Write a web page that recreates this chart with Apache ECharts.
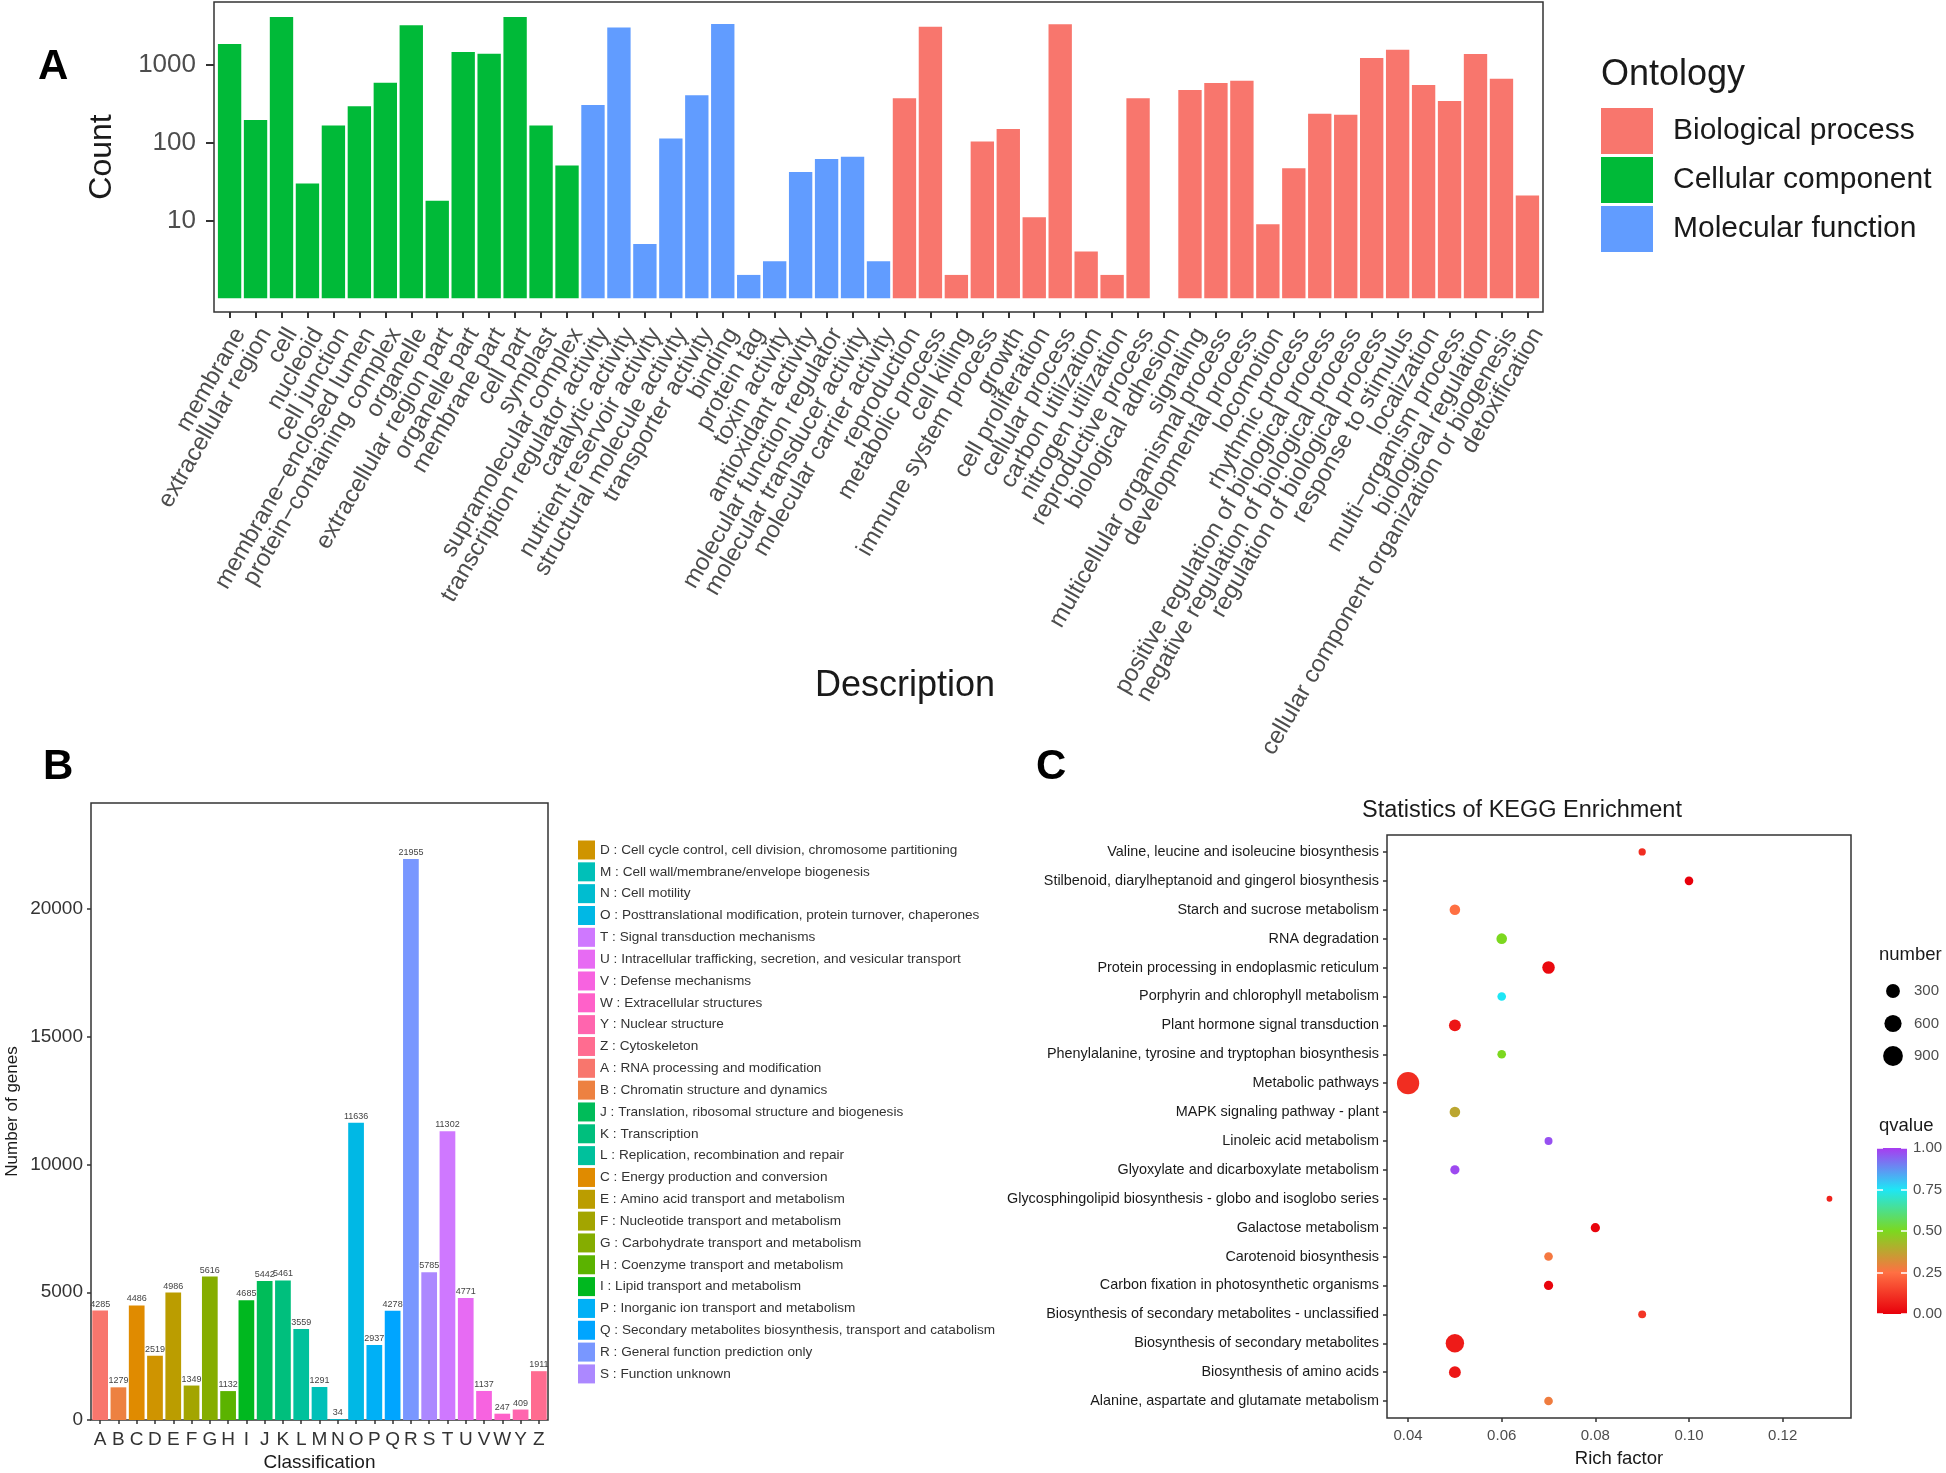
<!DOCTYPE html>
<html><head><meta charset="utf-8">
<script src="https://cdn.jsdelivr.net/npm/echarts@6/dist/echarts.min.js"></script>
<style>html,body{margin:0;padding:0;background:#fff}#c{width:1946px;height:1473px}</style>
</head><body><div id="c"></div>
<script>
// ---------------- Panel A : GO annotation ----------------
const goTerms = ['membrane','extracellular region','cell','nucleoid','cell junction','membrane−enclosed lumen','protein−containing complex','organelle','extracellular region part','organelle part','membrane part','cell part','symplast','supramolecular complex',
 'transcription regulator activity','catalytic activity','nutrient reservoir activity','structural molecule activity','transporter activity','binding','protein tag','toxin activity','antioxidant activity','molecular function regulator','molecular transducer activity','molecular carrier activity',
 'reproduction','metabolic process','cell killing','immune system process','growth','cell proliferation','cellular process','carbon utilization','nitrogen utilization','reproductive process','biological adhesion','signaling','multicellular organismal process','developmental process','locomotion','rhythmic process','positive regulation of biological process','negative regulation of biological process','regulation of biological process','response to stimulus','localization','multi−organism process','biological regulation','cellular component organization or biogenesis','detoxification'];
const goCounts = [1860,197,4160,30,167,295,593,3260,18,1470,1400,4160,167,51,
 307,3035,5,114,408,3385,2,3,42,62,66,3,
 373,3100,2,104,151,11,3355,4,2,373,1,478,588,630,9,47,236,229,1230,1571,556,346,1385,668,21];
const goOntology = ['CC','CC','CC','CC','CC','CC','CC','CC','CC','CC','CC','CC','CC','CC',
 'MF','MF','MF','MF','MF','MF','MF','MF','MF','MF','MF','MF',
 'BP','BP','BP','BP','BP','BP','BP','BP','BP','BP','BP','BP','BP','BP','BP','BP','BP','BP','BP','BP','BP','BP','BP','BP','BP'];
const ontologyKeys = ['BP','CC','MF'];
const ontologyNames = ['Biological process','Cellular component','Molecular function'];
const goTickValues = [10,100,1000];

// ---------------- Panel B : COG classification ----------------
const cogLetters = ['A','B','C','D','E','F','G','H','I','J','K','L','M','N','O','P','Q','R','S','T','U','V','W','Y','Z'];
const cogCounts = [4285,1279,4486,2519,4986,1349,5616,1132,4685,5442,5461,3559,1291,34,11636,2937,4278,21955,5785,11302,4771,1137,247,409,1911];
const cogDescriptions = ['RNA processing and modification','Chromatin structure and dynamics','Energy production and conversion','Cell cycle control, cell division, chromosome partitioning','Amino acid transport and metabolism','Nucleotide transport and metabolism','Carbohydrate transport and metabolism','Coenzyme transport and metabolism','Lipid transport and metabolism','Translation, ribosomal structure and biogenesis','Transcription','Replication, recombination and repair','Cell wall/membrane/envelope biogenesis','Cell motility','Posttranslational modification, protein turnover, chaperones','Inorganic ion transport and metabolism','Secondary metabolites biosynthesis, transport and catabolism','General function prediction only','Function unknown','Signal transduction mechanisms','Intracellular trafficking, secretion, and vesicular transport','Defense mechanisms','Extracellular structures','Nuclear structure','Cytoskeleton'];
const cogLegendOrder = ['D','M','N','O','T','U','V','W','Y','Z','A','B','J','K','L','C','E','F','G','H','I','P','Q','R','S'];
const cogTickValues = [0,5000,10000,15000,20000];

// ---------------- Panel C : KEGG enrichment ----------------
const keggPathways = ['Valine, leucine and isoleucine biosynthesis','Stilbenoid, diarylheptanoid and gingerol biosynthesis','Starch and sucrose metabolism','RNA degradation','Protein processing in endoplasmic reticulum','Porphyrin and chlorophyll metabolism','Plant hormone signal transduction','Phenylalanine, tyrosine and tryptophan biosynthesis','Metabolic pathways','MAPK signaling pathway - plant','Linoleic acid metabolism','Glyoxylate and dicarboxylate metabolism','Glycosphingolipid biosynthesis - globo and isoglobo series','Galactose metabolism','Carotenoid biosynthesis','Carbon fixation in photosynthetic organisms','Biosynthesis of secondary metabolites - unclassified','Biosynthesis of secondary metabolites','Biosynthesis of amino acids','Alanine, aspartate and glutamate metabolism'];
const keggRichFactor = [0.09,0.10,0.05,0.06,0.07,0.06,0.05,0.06,0.04,0.05,0.07,0.05,0.13,0.08,0.07,0.07,0.09,0.05,0.05,0.07];
const keggQvalue = [0.10,0.00,0.25,0.50,0.02,0.75,0.05,0.50,0.10,0.38,0.97,0.98,0.08,0.01,0.27,0.01,0.12,0.06,0.05,0.28];
const keggNumber = [15,42,110,110,214,42,174,42,1250,110,26,59,5,59,42,59,26,735,174,42];
const keggXTicks = [0.04,0.06,0.08,0.10,0.12];
const sizeLegendValues = [300,600,900];
const qvalueTicks = [0,0.25,0.5,0.75,1];

// ---------------- style helpers ----------------
const SANS = "'Liberation Sans', Arial, Helvetica, sans-serif";
const NARROW = "'Liberation Sans Narrow', 'Arial Narrow', 'Liberation Sans', sans-serif";
function hcl(h, c, l) {
  const r = h * Math.PI / 180, U = c * Math.cos(r), V = c * Math.sin(r);
  const Xn = 95.047, Yn = 100, Zn = 108.883;
  const Y = l > 7.999592 ? Yn * Math.pow((l + 16) / 116, 3) : Yn * l / 903.3;
  const den = Xn + 15 * Yn + 3 * Zn, un = 4 * Xn / den, vn = 9 * Yn / den;
  const u = U / (13 * l) + un, v = V / (13 * l) + vn;
  const X = Y * 9 * u / (4 * v), Z = Y * (12 - 3 * u - 20 * v) / (4 * v);
  const x = X / 100, y = Y / 100, z = Z / 100;
  const lin = [3.240479 * x - 1.537150 * y - 0.498535 * z, -0.969256 * x + 1.875992 * y + 0.041556 * z, 0.055648 * x - 0.204043 * y + 1.057311 * z];
  return '#' + lin.map(t => { t = t <= 0.0031308 ? 12.92 * t : 1.055 * Math.pow(t, 1 / 2.4) - 0.055; t = Math.max(0, Math.min(1, t)); return Math.round(t * 255).toString(16).padStart(2, '0'); }).join('');
}
function huePal(n) { const out = []; for (let i = 0; i < n; i++) out.push(hcl((15 + i * 360 / n) % 360, 100, 65)); return out; }
const ontologyColors = huePal(3);
const cogColors = huePal(cogLetters.length);
const qStops = ['#E8000B', '#FF7043', '#7CD81F', '#1EE6F5', '#A83BF0'];
function pointSize(n) { return 5.8 + 16.5 * Math.sqrt(Math.max(0, (n - 5) / 1245)); }
const cogName = l => l + ' : ' + cogDescriptions[cogLetters.indexOf(l)];

const tickLine = { color: '#333', width: 1.5 };
const series = [];
ontologyKeys.forEach((k, i) => series.push({
  type: 'bar', name: ontologyNames[i], xAxisIndex: 1, yAxisIndex: 1,
  data: goCounts.map((v, j) => goOntology[j] === k ? v : '-'),
  barGap: '-100%', barCategoryGap: '10%', itemStyle: { color: ontologyColors[i] }
}));
cogLetters.forEach((l, i) => series.push({
  type: 'bar', name: cogName(l), xAxisIndex: 2, yAxisIndex: 2,
  data: cogCounts.map((v, j) => j === i ? v : '-'),
  barGap: '-100%', barCategoryGap: '14%', itemStyle: { color: cogColors[i] },
  label: { show: true, position: 'top', distance: 2, fontSize: 9, color: '#444', fontFamily: SANS }
}));
const keggSeriesIndex = series.length;
series.push({
  type: 'scatter', xAxisIndex: 4, yAxisIndex: 4,
  dimensions: ['rich', 'pathway', 'q', 'n'],
  data: keggPathways.map((p, i) => [keggRichFactor[i], p, keggQvalue[i], keggNumber[i]]),
  encode: { x: 0, y: 1 }, symbolSize: v => pointSize(v[3]), itemStyle: { opacity: 1 }
});
series.push({
  type: 'scatter', xAxisIndex: 5, yAxisIndex: 5,
  data: sizeLegendValues.map(v => [0.5, String(v), v]),
  symbolSize: v => pointSize(v[2]), itemStyle: { color: '#000', opacity: 1 }, silent: true
});
series.push({
  type: 'bar', xAxisIndex: 6, yAxisIndex: 6, data: [qvalueTicks[qvalueTicks.length - 1]], barWidth: '100%', silent: true,
  itemStyle: { color: new echarts.graphic.LinearGradient(0, 1, 0, 0, qStops.map((c, i) => ({ offset: i / (qStops.length - 1), color: c }))) }
});

const frame = { show: true, borderColor: '#333', borderWidth: 1.5, backgroundColor: 'transparent' };
const hidden = { show: false };
const option = {
  animation: false, backgroundColor: '#fff', textStyle: { fontFamily: SANS },
  title: [
    { text: 'A', left: 38, top: 46, padding: 0, textStyle: { fontSize: 42, fontWeight: 'bold', color: '#000', fontFamily: SANS } },
    { text: 'B', left: 43, top: 746, padding: 0, textStyle: { fontSize: 42, fontWeight: 'bold', color: '#000', fontFamily: SANS } },
    { text: 'C', left: 1036, top: 746, padding: 0, textStyle: { fontSize: 42, fontWeight: 'bold', color: '#000', fontFamily: SANS } },
    { text: 'Ontology', left: 1601, top: 57, padding: 0, textStyle: { fontSize: 36, fontWeight: 'normal', color: '#1a1a1a', fontFamily: SANS } },
    { text: 'Statistics of KEGG Enrichment', left: 1362, top: 799, padding: 0, textStyle: { fontSize: 23.5, fontWeight: 'normal', color: '#1a1a1a', fontFamily: NARROW } },
    { text: 'number', left: 1879, top: 945, padding: 0, textStyle: { fontSize: 18.5, fontWeight: 'normal', color: '#1a1a1a', fontFamily: NARROW } },
    { text: 'qvalue', left: 1879, top: 1116, padding: 0, textStyle: { fontSize: 18.5, fontWeight: 'normal', color: '#1a1a1a', fontFamily: NARROW } }
  ],
  legend: [
    { orient: 'vertical', left: 1601, top: 108, padding: 0, itemWidth: 52, itemHeight: 46, itemGap: 3, icon: 'rect', data: ontologyNames,
      textStyle: { fontSize: 30, color: '#1a1a1a', fontFamily: SANS, padding: [0, 0, 0, 15] } },
    { orient: 'vertical', left: 578, top: 840.5, padding: 0, itemWidth: 17, itemHeight: 19, itemGap: 2.83, icon: 'rect', data: cogLegendOrder.map(cogName),
      textStyle: { fontSize: 13.6, color: '#333', fontFamily: SANS } }
  ],
  visualMap: [{ type: 'continuous', show: false, min: 0, max: 1, dimension: 2, seriesIndex: keggSeriesIndex, inRange: { color: qStops } }],
  grid: [
    Object.assign({ left: 214, top: 2, width: 1329, height: 310 }, frame),
    { left: 216.6, top: 2, width: 1323.8, height: 310 },
    Object.assign({ left: 91, top: 803, width: 457, height: 617 }, frame),
    Object.assign({ left: 1387, top: 835, width: 464, height: 583 }, frame),
    { left: 1387, top: 837.5, width: 464, height: 578 },
    { left: 1880, top: 974.75, width: 26, height: 97.5 },
    { left: 1877, top: 1148, width: 30, height: 166 }
  ],
  xAxis: [
    { gridIndex: 0, type: 'value', show: false },
    { gridIndex: 1, type: 'category', data: goTerms, axisLine: hidden,
      axisTick: { show: true, alignWithLabel: true, length: 6, lineStyle: { color: '#333', width: 2 } },
      axisLabel: { interval: 0, rotate: 60, fontSize: 24, color: '#4d4d4d', margin: 12, align: 'right', verticalAlign: 'top', fontFamily: SANS },
      name: 'Description', nameLocation: 'middle', nameGap: 356, nameMoveOverlap: false,
      nameTextStyle: { fontSize: 36, color: '#1a1a1a', padding: [0, 0, 0, 53], fontFamily: SANS } },
    { gridIndex: 2, type: 'category', data: cogLetters, axisLine: hidden,
      axisTick: { show: true, alignWithLabel: true, length: 4, lineStyle: tickLine },
      axisLabel: { interval: 0, fontSize: 19, color: '#333', margin: 10, fontFamily: SANS },
      name: 'Classification', nameLocation: 'middle', nameGap: 33, nameMoveOverlap: false, nameTextStyle: { fontSize: 19, color: '#1a1a1a', fontFamily: SANS } },
    { gridIndex: 3, type: 'value', show: false },
    { gridIndex: 4, type: 'value', min: 0.0355, max: 0.1346, offset: 2.5, axisLine: hidden, splitLine: hidden,
      axisTick: { show: true, length: 4, customValues: keggXTicks, lineStyle: tickLine },
      axisLabel: { customValues: keggXTicks, fontSize: 15, color: '#4d4d4d', margin: 10, fontFamily: NARROW, formatter: v => v.toFixed(2) },
      name: 'Rich factor', nameLocation: 'middle', nameGap: 31, nameMoveOverlap: false, nameTextStyle: { fontSize: 18.5, color: '#1a1a1a', fontFamily: NARROW } },
    { gridIndex: 5, type: 'value', min: 0, max: 1, show: false },
    { gridIndex: 6, type: 'category', data: ['q'], show: false }
  ],
  yAxis: [
    { gridIndex: 0, type: 'value', show: false },
    { gridIndex: 1, type: 'log', logBase: 10, min: 0.667, max: 6471, offset: 2.6, axisLine: hidden, splitLine: hidden, minorTick: hidden,
      axisTick: { show: true, length: 8, customValues: goTickValues, lineStyle: { color: '#333', width: 2 } },
      axisLabel: { customValues: goTickValues, fontSize: 26, color: '#4d4d4d', margin: 18, fontFamily: SANS, formatter: v => String(Math.round(v)) },
      name: 'Count', nameLocation: 'middle', nameGap: 96, nameMoveOverlap: false, nameTextStyle: { fontSize: 32, color: '#1a1a1a', fontFamily: SANS } },
    { gridIndex: 2, type: 'value', min: 0, max: 24150, axisLine: hidden, splitLine: hidden,
      axisTick: { show: true, length: 4, customValues: cogTickValues, lineStyle: tickLine },
      axisLabel: { customValues: cogTickValues, fontSize: 19, color: '#333', margin: 8, fontFamily: SANS, formatter: v => String(v) },
      name: 'Number of genes', nameLocation: 'middle', nameGap: 70, nameMoveOverlap: false, nameTextStyle: { fontSize: 17, color: '#1a1a1a', fontFamily: SANS } },
    { gridIndex: 3, type: 'value', show: false },
    { gridIndex: 4, type: 'category', data: keggPathways, inverse: true, axisLine: hidden,
      axisTick: { show: true, alignWithLabel: true, length: 4, lineStyle: tickLine },
      axisLabel: { interval: 0, fontSize: 14.4, color: '#1a1a1a', margin: 8, fontFamily: NARROW } },
    { gridIndex: 5, type: 'category', data: sizeLegendValues.map(String), inverse: true, position: 'right', axisLine: hidden, axisTick: hidden,
      axisLabel: { fontSize: 15, color: '#4d4d4d', margin: 8, fontFamily: NARROW } },
    { gridIndex: 6, type: 'value', min: 0, max: 1, interval: 0.25, position: 'right', z: 10, axisLine: hidden, splitLine: hidden,
      axisTick: { show: true, inside: true, length: 6, lineStyle: { color: '#fff', width: 1.5 } },
      axisLabel: { fontSize: 15, color: '#4d4d4d', margin: 6, fontFamily: NARROW, formatter: v => v.toFixed(2) } },
    { gridIndex: 6, type: 'value', min: 0, max: 1, interval: 0.25, position: 'left', z: 10, axisLine: hidden, splitLine: hidden,
      axisTick: { show: true, inside: true, length: 6, lineStyle: { color: '#fff', width: 1.5 } }, axisLabel: hidden }
  ],
  series: series
};
const chart = echarts.init(document.getElementById('c'), null, { renderer: 'canvas', width: 1946, height: 1473 });
chart.setOption(option);
</script></body></html>
